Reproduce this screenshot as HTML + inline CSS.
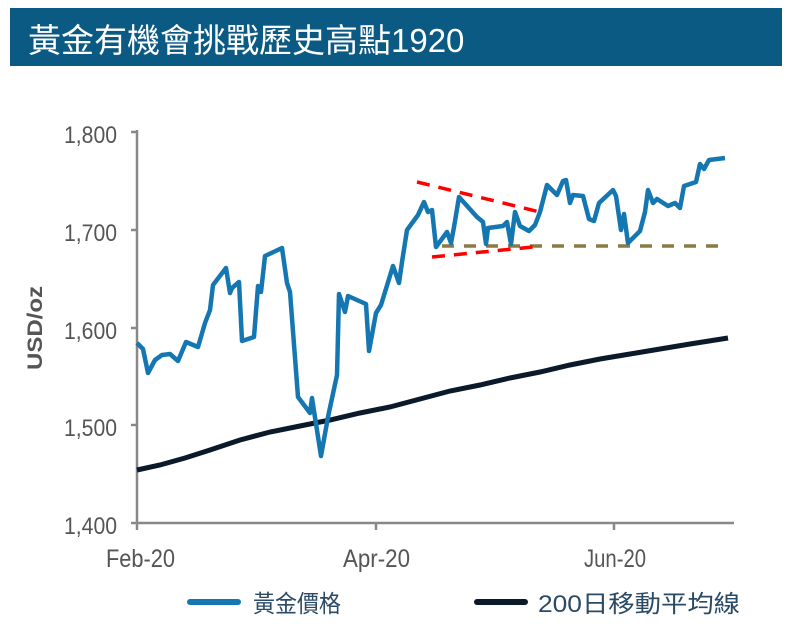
<!DOCTYPE html>
<html><head><meta charset="utf-8"><style>
body{margin:0;background:#fff;width:792px;height:624px;overflow:hidden;font-family:"Liberation Sans","Noto Sans CJK TC",sans-serif}
</style></head><body>
<svg width="792" height="624" xmlns="http://www.w3.org/2000/svg" style="position:absolute;left:0;top:0">
<rect x="10" y="8" width="772" height="58" fill="#0b5a84"/>
<text x="28" y="52" font-size="33" fill="#fff" font-family="Liberation Sans, Noto Sans CJK TC, sans-serif">黃金有機會挑戰歷史高點1920</text>
<g stroke="#888" stroke-width="2.5" fill="none">
<line x1="137" y1="130" x2="137" y2="524"/>
<line x1="136" y1="523" x2="734" y2="523"/>
<line x1="131" y1="132" x2="137" y2="132"/><line x1="131" y1="230" x2="137" y2="230"/><line x1="131" y1="328" x2="137" y2="328"/><line x1="131" y1="425" x2="137" y2="425"/><line x1="131" y1="523" x2="137" y2="523"/>
<line x1="137" y1="523" x2="137" y2="530"/><line x1="376" y1="523" x2="376" y2="530"/><line x1="614" y1="523" x2="614" y2="530"/>
</g>
<g font-size="24" fill="#555" text-anchor="end">
<text x="117" y="143" textLength="53" lengthAdjust="spacingAndGlyphs">1,800</text>
<text x="117" y="241" textLength="53" lengthAdjust="spacingAndGlyphs">1,700</text>
<text x="117" y="339" textLength="53" lengthAdjust="spacingAndGlyphs">1,600</text>
<text x="117" y="436" textLength="53" lengthAdjust="spacingAndGlyphs">1,500</text>
<text x="117" y="534" textLength="53" lengthAdjust="spacingAndGlyphs">1,400</text>
</g>
<g font-size="25" fill="#555">
<text x="106" y="567" textLength="69" lengthAdjust="spacingAndGlyphs">Feb-20</text>
<text x="343" y="567" textLength="67" lengthAdjust="spacingAndGlyphs">Apr-20</text>
<text x="584" y="567" textLength="62" lengthAdjust="spacingAndGlyphs">Jun-20</text>
</g>
<text transform="translate(42,328) rotate(-90)" font-size="21" font-weight="bold" fill="#555" text-anchor="middle" textLength="84" lengthAdjust="spacingAndGlyphs">USD/oz</text>
<polyline fill="none" stroke="#0b1a2a" stroke-width="5" points="137,470 160,465 185,458 210,450 240,440 270,432 300,426 330,420 360,413 390,407 420,399 450,391 480,385 510,378 540,372 570,365 600,359 630,354 660,349 690,344 728,338"/>
<line x1="442" y1="246" x2="726" y2="246" stroke="#8b7a44" stroke-width="3.5" stroke-dasharray="12,10"/>
<line x1="417" y1="182" x2="540" y2="212" stroke="#f00" stroke-width="3.5" stroke-dasharray="13,9"/>
<line x1="432" y1="257" x2="533" y2="247" stroke="#f00" stroke-width="3.5" stroke-dasharray="13,9"/>
<polyline fill="none" stroke="#1577b1" stroke-width="4.5" stroke-linejoin="round" points="137,343 143,349 148,373 155,360 162,355 170,354 178,361 186,342 198,347 205,323 210,310 213,285 226,268 230,293 232,288 239,282 242,341 254,337 258,286 261,292 265,256 282,248 287,283 290,292 298,397 310,413 312,398 321,456 328,417 337,375 339,294 345,312 348,296 366,304 369,351 376,313 381,305 393,266 399,283 402,262 407,230 418,215 424,202 428,212 432,210 436,247 447,232 451,243 454,227 459,197 477,217 483,222 486,244 488,228 503,226 507,222 511,244 515,212 520,226 529,231 535,225 540,212 547,185 557,195 563,181 566,180 570,203 573,195 583,196 589,219 594,221 599,203 613,190 616,196 621,230 624,214 628,243 640,231 645,212 648,190 653,203 657,199 668,206 675,203 680,208 684,186 696,182 700,164 704,169 709,160 725,158"/>
<line x1="190" y1="602" x2="238" y2="602" stroke="#1577b1" stroke-width="6" stroke-linecap="round"/>
<text x="253" y="612" font-size="24" fill="#2a4a66" textLength="88" lengthAdjust="spacingAndGlyphs">黃金價格</text>
<line x1="477" y1="602" x2="525" y2="602" stroke="#0b1a2a" stroke-width="6" stroke-linecap="round"/>
<text x="538" y="612" font-size="24" fill="#2a4a66" textLength="202" lengthAdjust="spacingAndGlyphs">200日移動平均線</text>
</svg>
</body></html>
